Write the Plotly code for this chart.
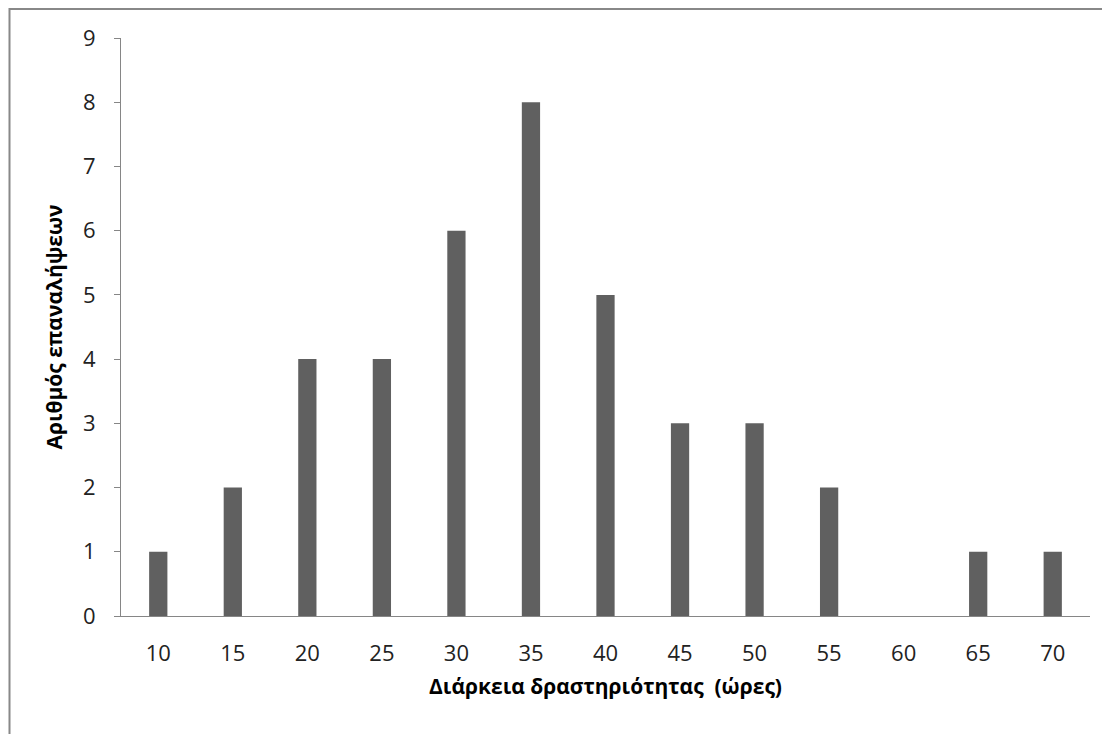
import plotly.graph_objects as go

categories = ["10", "15", "20", "25", "30", "35", "40", "45", "50", "55", "60", "65", "70"]
counts = [1, 2, 4, 4, 6, 8, 5, 3, 3, 2, 0, 1, 1]
y_ticks = [0, 1, 2, 3, 4, 5, 6, 7, 8, 9]

# page body has an 8px default margin, so the figure is sized to the remaining viewport
W, H = 1102, 726
L, R, T, B = 113, 20, 30, 118
pw, ph = W - L - R, H - T - B

fig = go.Figure(go.Bar(x=categories, y=counts, marker=dict(color="#606060", line=dict(width=0)), width=0.245))

def px_x(p):
    return (p - L) / pw

def px_y(p):
    return (H - B - p) / ph

border = "#888888"
fig.add_shape(type="line", xref="paper", yref="paper", x0=px_x(1.5), x1=px_x(W + 5), y0=px_y(1), y1=px_y(1),
              line=dict(color=border, width=2))
fig.add_shape(type="line", xref="paper", yref="paper", x0=px_x(1.5), x1=px_x(1.5), y0=px_y(0), y1=px_y(H + 5),
              line=dict(color=border, width=2))

font = "Open Sans, Noto Sans, sans-serif"
fig.update_layout(
    width=W, height=H,
    margin=dict(l=L, r=R, t=T, b=B),
    paper_bgcolor="white", plot_bgcolor="white",
    showlegend=False,
    font=dict(family=font, size=22, color="#222222"),
    xaxis=dict(type="category", showline=True, linecolor="#868686", linewidth=1, ticks="",
               ticklabelstandoff=18, showgrid=False, zeroline=False,
               title=dict(text="<b>Διάρκεια δραστηριότητας  (ώρες)</b>", font=dict(size=21, color="#000000"), standoff=12)),
    yaxis=dict(range=[0, 9], tickvals=y_ticks, showline=True, linecolor="#868686", linewidth=1,
               ticks="outside", ticklen=6, tickcolor="#868686", ticklabelstandoff=14,
               showgrid=False, zeroline=False,
               title=dict(text="<b>Αριθμός επαναλήψεων</b>", font=dict(size=21, color="#000000"), standoff=14)),
)

fig.write_html("out.html")
